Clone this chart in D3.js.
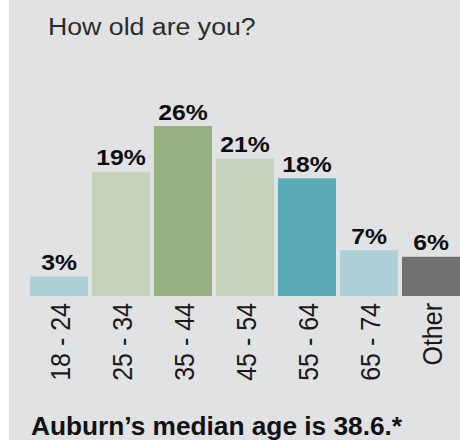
<!DOCTYPE html>
<html>
<head>
<meta charset="utf-8">
<script src="https://cdn.jsdelivr.net/npm/d3@7"></script>
<style>
  body { margin: 0; background: #fff; }
  svg { display: block; }
</style>
</head>
<body>
<div id="chart"></div>
<script>
let ageGroups = ["18 - 24", "25 - 34", "35 - 44", "45 - 54", "55 - 64", "65 - 74", "Other"];
let percents = [3, 19, 26, 21, 18, 7, 6];
let barColors = ["#aed0d9", "#c6d3bb", "#97b282", "#c6d3bb", "#5baab8", "#aed0d9", "#717174"];
let title = "How old are you?";
let footnote = "Auburn\u2019s median age is 38.6.*";

let width = 460, height = 440;
let font = "'Liberation Sans', Arial, Helvetica, sans-serif";

let svg = d3.select("#chart").append("svg")
  .attr("width", width).attr("height", height);

svg.append("rect")
  .attr("x", 9).attr("y", 0)
  .attr("width", width - 9).attr("height", height)
  .attr("fill", "#e1e2e4");

let x = d3.scaleBand()
  .domain(ageGroups)
  .range([28, 462])
  .paddingInner(4 / 62)
  .paddingOuter(2 / 62);

let y = d3.scaleLinear()
  .domain([0, 26])
  .range([296, 126]);

let data = ageGroups.map(function(d, i){ return {age: d, pct: percents[i], color: barColors[i]}; });

svg.selectAll("rect.bar")
  .data(data)
  .enter().append("rect")
    .attr("class", "bar")
    .attr("x", function(d){ return x(d.age); })
    .attr("y", function(d){ return y(d.pct); })
    .attr("width", x.bandwidth())
    .attr("height", function(d){ return y(0) - y(d.pct); })
    .attr("fill", function(d){ return d.color; });

svg.selectAll("text.val")
  .data(data)
  .enter().append("text")
    .attr("class", "val")
    .attr("text-anchor", "middle")
    .attr("transform", function(d){
      return "translate(" + (x(d.age) + x.bandwidth() / 2) + "," + (y(d.pct) - 6.5) + ") scale(1.15,1)";
    })
    .attr("font-family", font)
    .attr("font-weight", "bold")
    .attr("font-size", 21.5)
    .attr("fill", "#0d0d0d")
    .text(function(d){ return d.pct + "%"; });

let axis = svg.append("g")
  .attr("transform", "translate(0," + y(0) + ")")
  .call(d3.axisBottom(x).tickSize(0));

axis.select(".domain").remove();
axis.selectAll("text")
  .attr("x", 0).attr("y", 0).attr("dy", null)
  .attr("text-anchor", "end")
  .attr("transform", "translate(11,7) scale(1.1,1) rotate(-90)")
  .attr("font-family", font)
  .attr("font-size", 25)
  .attr("fill", "#1a1a1a");

svg.append("text")
  .attr("transform", "translate(48,35) scale(1.09,1)")
  .attr("font-family", font)
  .attr("font-size", 24.5)
  .attr("fill", "#2b2b2b")
  .text(title);

svg.append("text")
  .attr("transform", "translate(31,435) scale(1.03,1)")
  .attr("font-family", font)
  .attr("font-weight", "bold")
  .attr("font-size", 25.5)
  .attr("fill", "#111")
  .text(footnote);
</script>
</body>
</html>
